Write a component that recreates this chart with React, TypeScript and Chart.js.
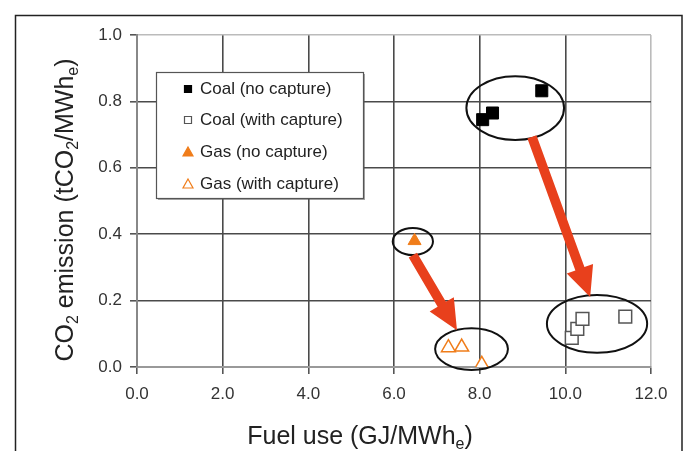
import React, { useEffect, useRef } from 'react';
import { Chart, registerables } from 'chart.js';
Chart.register(...registerables);

// ---- Data ----
const seriesLabels = ['Coal (no capture)', 'Coal (with capture)', 'Gas (no capture)', 'Gas (with capture)'];
const coalNoCaptureX = [8.07, 8.3, 9.45];
const coalNoCaptureY = [0.745, 0.765, 0.832];
const coalCaptureX = [10.15, 10.28, 10.4, 11.4];
const coalCaptureY = [0.088, 0.115, 0.145, 0.152];
const gasNoCaptureX = [6.48];
const gasNoCaptureY = [0.38];
const gasCaptureX = [7.27, 7.58, 8.05];
const gasCaptureY = [0.058, 0.06, 0.008];

const xTicks = [0, 2, 4, 6, 8, 10, 12];
const yTicks = [0, 0.2, 0.4, 0.6, 0.8, 1.0];

// annotation ellipses (data units): cx, cy, rx, ry
const ellipseCX = [8.83, 10.74, 6.44, 7.81];
const ellipseCY = [0.78, 0.13, 0.378, 0.054];
const ellipseRX = [1.14, 1.17, 0.47, 0.85];
const ellipseRY = [0.096, 0.087, 0.041, 0.063];

// annotation arrows (data units): from -> to
const arrowFromX = [9.22, 6.44];
const arrowFromY = [0.693, 0.337];
const arrowToX = [10.58, 7.47];
const arrowToY = [0.211, 0.111];

const FONT = "'Liberation Sans', Arial, Helvetica, sans-serif";
const ORANGE = '#f07d1a';
const ARROW_RED = '#e8401c';

const toPts = (xs: number[], ys: number[]) => xs.map((x, i) => ({ x, y: ys[i] }));

type Seg = { t: string; sub?: boolean };

function drawSegs(ctx: CanvasRenderingContext2D, segs: Seg[], size: number, cx: number, cy: number) {
  const subSize = Math.round(size * 0.62);
  let total = 0;
  for (const s of segs) {
    ctx.font = `${s.sub ? subSize : size}px ${FONT}`;
    total += ctx.measureText(s.t).width;
  }
  let x = cx - total / 2;
  ctx.textBaseline = 'middle';
  ctx.textAlign = 'left';
  for (const s of segs) {
    ctx.font = `${s.sub ? subSize : size}px ${FONT}`;
    ctx.fillText(s.t, x, s.sub ? cy + size * 0.3 : cy);
    x += ctx.measureText(s.t).width;
  }
}

const decorPlugin = {
  id: 'decor',
  afterDatasetsDraw(chart: any) {
    const ctx: CanvasRenderingContext2D = chart.ctx;
    const xs = chart.scales.x;
    const ys = chart.scales.y;
    ctx.save();
    // ellipses
    ctx.strokeStyle = '#111';
    ctx.lineWidth = 2;
    for (let i = 0; i < ellipseCX.length; i++) {
      const cx = xs.getPixelForValue(ellipseCX[i]);
      const cy = ys.getPixelForValue(ellipseCY[i]);
      const rx = Math.abs(xs.getPixelForValue(ellipseCX[i] + ellipseRX[i]) - cx);
      const ry = Math.abs(ys.getPixelForValue(ellipseCY[i] + ellipseRY[i]) - cy);
      ctx.beginPath();
      ctx.ellipse(cx, cy, rx, ry, 0, 0, Math.PI * 2);
      ctx.stroke();
    }
    // arrows
    ctx.fillStyle = ARROW_RED;
    for (let i = 0; i < arrowFromX.length; i++) {
      const x0 = xs.getPixelForValue(arrowFromX[i]);
      const y0 = ys.getPixelForValue(arrowFromY[i]);
      const x1 = xs.getPixelForValue(arrowToX[i]);
      const y1 = ys.getPixelForValue(arrowToY[i]);
      const dx = x1 - x0, dy = y1 - y0;
      const len = Math.hypot(dx, dy);
      const ux = dx / len, uy = dy / len;
      const px = -uy, py = ux;
      const headL = 30, headW = 14, shaftW = 4.8;
      const bx = x1 - ux * headL, by = y1 - uy * headL;
      ctx.beginPath();
      ctx.moveTo(x0 + px * shaftW, y0 + py * shaftW);
      ctx.lineTo(bx + px * shaftW, by + py * shaftW);
      ctx.lineTo(bx + px * headW, by + py * headW);
      ctx.lineTo(x1, y1);
      ctx.lineTo(bx - px * headW, by - py * headW);
      ctx.lineTo(bx - px * shaftW, by - py * shaftW);
      ctx.lineTo(x0 - px * shaftW, y0 - py * shaftW);
      ctx.closePath();
      ctx.fill();
    }
    ctx.restore();
  },
  afterDraw(chart: any) {
    const ctx: CanvasRenderingContext2D = chart.ctx;
    const area = chart.chartArea;
    ctx.save();
    // outer frame
    ctx.strokeStyle = '#222';
    ctx.lineWidth = 1.5;
    ctx.beginPath();
    ctx.moveTo(15.5, 460);
    ctx.lineTo(15.5, 15.5);
    ctx.lineTo(682, 15.5);
    ctx.lineTo(682, 460);
    ctx.stroke();

    // legend box
    const lx = 156, ly = 72, lw = 207, lh = 126;
    ctx.fillStyle = 'rgba(80,80,80,0.5)';
    ctx.fillRect(lx + 2, ly + 2, lw, lh);
    ctx.fillStyle = '#fff';
    ctx.fillRect(lx, ly, lw, lh);
    ctx.strokeStyle = '#555';
    ctx.lineWidth = 1.2;
    ctx.strokeRect(lx + 0.5, ly + 0.5, lw, lh);
    const rows = [89, 120, 152, 184];
    const ds = chart.data.datasets;
    for (let i = 0; i < ds.length; i++) {
      const d = ds[i];
      const mx = 188, my = rows[i];
      ctx.fillStyle = d.backgroundColor;
      ctx.strokeStyle = d.borderColor;
      ctx.lineWidth = 1.2;
      ctx.beginPath();
      if (d.pointStyle === 'rect') {
        ctx.rect(mx - 3.5, my - 3.5, 7, 7);
      } else {
        ctx.moveTo(mx, my - 5);
        ctx.lineTo(mx + 5, my + 4);
        ctx.lineTo(mx - 5, my + 4);
        ctx.closePath();
      }
      ctx.fill();
      ctx.stroke();
      ctx.fillStyle = '#222';
      ctx.font = `17px ${FONT}`;
      ctx.textAlign = 'left';
      ctx.textBaseline = 'middle';
      ctx.fillText(d.label, 200, my);
    }

    // axis titles
    ctx.fillStyle = '#222';
    drawSegs(ctx, [{ t: 'Fuel use (GJ/MWh' }, { t: 'e', sub: true }, { t: ')' }], 25, 360, 437);
    ctx.save();
    ctx.translate(66, (area.top + area.bottom) / 2 + 9);
    ctx.rotate(-Math.PI / 2);
    drawSegs(
      ctx,
      [
        { t: 'CO' }, { t: '2', sub: true }, { t: ' emission (tCO' }, { t: '2', sub: true },
        { t: '/MWh' }, { t: 'e', sub: true }, { t: ')' },
      ],
      25,
      0,
      0
    );
    ctx.restore();
    ctx.restore();
  },
};

export default function App() {
  const ref = useRef<HTMLCanvasElement>(null);
  useEffect(() => {
    if (!ref.current) return;
    const chart = new Chart(ref.current, {
      type: 'scatter',
      data: {
        datasets: [
          {
            label: seriesLabels[0],
            data: toPts(coalNoCaptureX, coalNoCaptureY),
            pointStyle: 'rect',
            pointRadius: 8.5,
            backgroundColor: '#000',
            borderColor: '#000',
            borderWidth: 1,
          },
          {
            label: seriesLabels[1],
            data: toPts(coalCaptureX, coalCaptureY),
            pointStyle: 'rect',
            pointRadius: 9,
            backgroundColor: '#fff',
            borderColor: '#555',
            borderWidth: 1.5,
          },
          {
            label: seriesLabels[2],
            data: toPts(gasNoCaptureX, gasNoCaptureY),
            pointStyle: 'triangle',
            pointRadius: 7.5,
            backgroundColor: ORANGE,
            borderColor: ORANGE,
            borderWidth: 1,
          },
          {
            label: seriesLabels[3],
            data: toPts(gasCaptureX, gasCaptureY),
            pointStyle: 'triangle',
            pointRadius: 8,
            backgroundColor: '#fff',
            borderColor: ORANGE,
            borderWidth: 1.5,
          },
        ] as any,
      },
      options: {
        animation: false,
        responsive: false,
        devicePixelRatio: 1,
        layout: { padding: { top: 35, right: 33, left: 0, bottom: 0 } },
        plugins: { legend: { display: false }, tooltip: { enabled: false } },
        scales: {
          x: {
            type: 'linear',
            min: xTicks[0],
            max: xTicks[xTicks.length - 1],
            afterBuildTicks: (s: any) => { s.ticks = xTicks.map((v) => ({ value: v })); },
            afterFit: (s: any) => { s.height = 84; },
            ticks: {
              callback: (v: any) => Number(v).toFixed(1),
              font: { family: FONT, size: 17 },
              color: '#333',
              padding: 10,
              maxRotation: 0,
            },
            grid: {
              color: (c: any) => (c.tick && c.tick.value === 12 ? '#bbb' : c.tick && c.tick.value === 0 ? '#888' : '#4a4a4a'),
              lineWidth: 1.6,
              tickLength: 7,
              tickColor: '#555',
            },
            border: { display: true, color: '#999', width: 2 },
          },
          y: {
            type: 'linear',
            min: yTicks[0],
            max: yTicks[yTicks.length - 1],
            afterBuildTicks: (s: any) => { s.ticks = yTicks.map((v) => ({ value: v })); },
            afterFit: (s: any) => { s.width = 137; },
            ticks: {
              callback: (v: any) => Number(v).toFixed(1),
              font: { family: FONT, size: 17 },
              color: '#333',
              padding: 8,
            },
            grid: {
              color: (c: any) => (c.tick && Math.abs(c.tick.value - 1) < 1e-6 ? '#bbb' : c.tick && c.tick.value === 0 ? '#999' : '#4a4a4a'),
              lineWidth: 1.6,
              tickLength: 7,
              tickColor: '#555',
            },
            border: { display: true, color: '#888', width: 2 },
          },
        },
      },
      plugins: [decorPlugin],
    });
    return () => chart.destroy();
  }, []);
  return (
    <div style={{ position: 'fixed', left: 0, top: 0, width: 684, height: 451, background: '#fff' }}>
      <canvas ref={ref} width={684} height={451} style={{ width: 684, height: 451, display: 'block' }} />
    </div>
  );
}
